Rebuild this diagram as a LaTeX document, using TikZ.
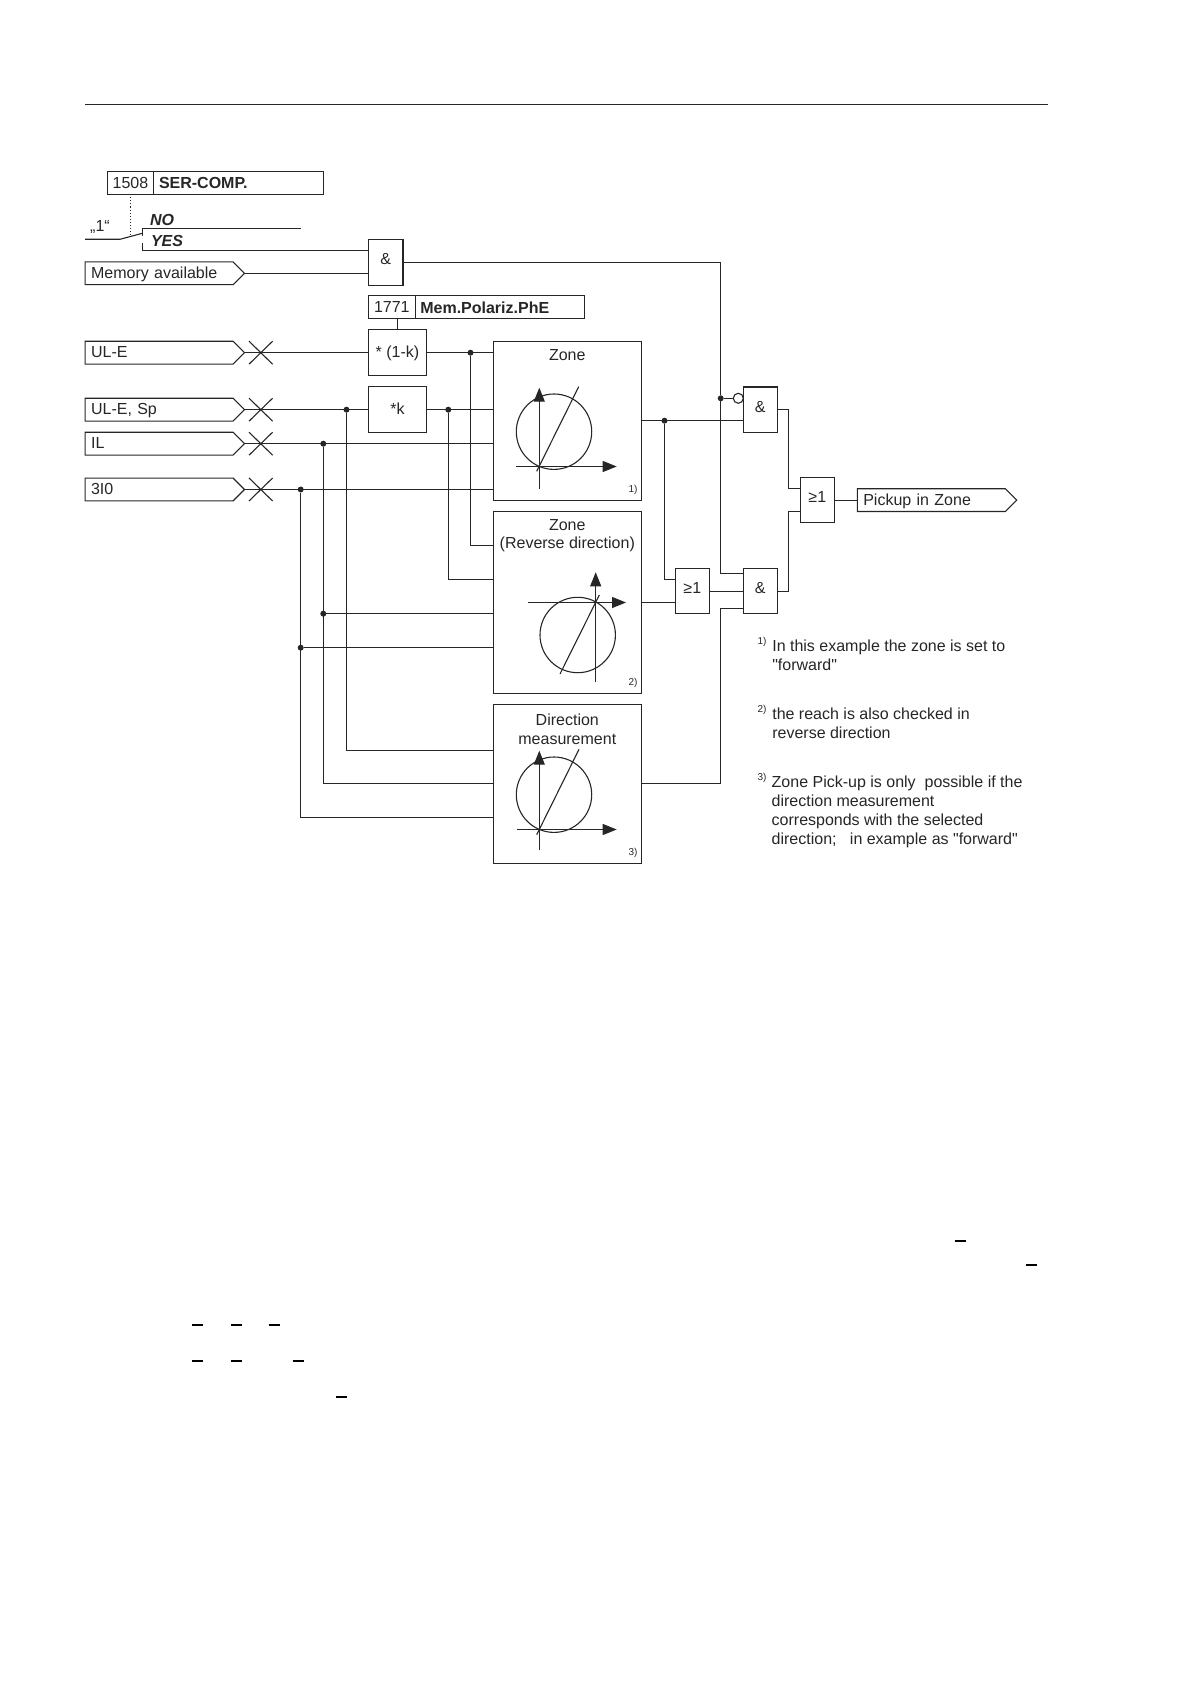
\documentclass[tikz,border=0pt]{standalone}
\usepackage{fontspec}
\setmainfont{Liberation Sans}[Ligatures=TeXOff]
\usetikzlibrary{positioning,arrows.meta,shapes.symbols,shapes.misc}
\tikzset{
  every node/.style={font=\fontsize{8}{9.5}\selectfont,inner sep=0pt,outer sep=0pt},
  box/.style={draw,rectangle},
  gate/.style={box,minimum width=17.2pt,minimum height=22.7pt,text height=5.8pt,text depth=3.4pt},
  multbox/.style={box,minimum width=28.7pt,minimum height=22.8pt,text height=5.8pt,text depth=1pt},
  numbox/.style={box,minimum width=23.3pt,minimum height=11.5pt},
  namebox/.style={box,minimum width=84.8pt,minimum height=11.5pt,text width=79.6pt,align=left,inner xsep=2.6pt,font=\fontsize{8}{9.5}\selectfont\bfseries},
  tag/.style={draw,signal,signal to=east,signal pointer angle=90,minimum height=11.4pt,text width=68pt,align=left,inner xsep=3pt,text height=5.8pt,text depth=0.8pt},
  crossing/.style={draw,cross out,minimum width=11.8pt,minimum height=11.5pt},
  junction/.style={circle,fill,minimum size=3pt},
  negation/.style={draw,circle,fill=white,minimum size=5pt},
  setting/.style={font=\fontsize{8}{9.5}\selectfont\bfseries\itshape,anchor=west},
  note/.style={anchor=north west,align=left},
  notemark/.style={font=\fontsize{5}{6}\selectfont},
  axis/.style={-{Triangle[length=7pt,width=5.5pt]}}
}
\begin{document}
\begin{tikzpicture}[x=0.5pt,y=-0.5pt,line width=0.55pt,color=black!85]
  \useasboundingbox (0,0) rectangle (1190,1684);
  \draw (85,104.5) -- (1048,104.5);

  % settings
  \node[numbox] (p1508) at (130.5,182.6) {1508};
  \node[namebox,right=0pt of p1508] (n1508) {SER-COMP.};
  \node[numbox] (p1771) at (391.8,307.3) {1771};
  \node[namebox,right=0pt of p1771] (n1771) {Mem.Polariz.PhE};
  \node (one) at (100,227) {„1“};
  \node[setting] (no) at (150,220) {NO};
  \node[setting] (yes) at (151,240.7) {YES};

  % inputs
  \node[tag] (mem) at (159.1,273.3) {Memory available};
  \node[tag] (ule) at (159.1,352.7) {UL-E};
  \node[tag] (ulesp) at (159.1,409.7) {UL-E, Sp};
  \node[tag] (il) at (159.1,443.7) {IL};
  \node[tag] (ize) at (159.1,489.5) {3I0};
  \node[crossing] (xa) at (260.8,352.7) {};
  \node[crossing] (xb) at (260.8,409.7) {};
  \node[crossing] (xc) at (260.8,443.7) {};
  \node[crossing] (xd) at (260.8,489.5) {};

  % blocks
  \node[gate] (andm) at (385.8,262.5) {\&};
  \node[multbox] (mula) at (397.5,352.7) {* (1-k)};
  \node[multbox] (mulb) at (397.5,409.7) {*k};
  \node[box,minimum width=74pt,minimum height=79.35pt] (zone) at (567.3,420.7) {};
  \node[box,minimum width=74pt,minimum height=90.8pt] (rev) at (567.3,602.5) {};
  \node[box,minimum width=74pt,minimum height=79.5pt] (dir) at (567.3,783.8) {};
  \node (zonet) at (567.3,355) {Zone};
  \node[align=center,font=\fontsize{8}{9.2}\selectfont] (revt) at (567.3,535.5) {Zone\\(Reverse direction)};
  \node[align=center] (dirt) at (567.3,728.8) {Direction\\measurement};
  \node[notemark] (zonem) at (633,490) {1)};
  \node[notemark] (revm) at (633,682.7) {2)};
  \node[notemark] (dirm) at (633,852.7) {3)};
  \node[gate] (anda) at (760.3,409.7) {\&};
  \node[gate] (orb) at (692.3,591.2) {≥1};
  \node[gate] (andb) at (760.3,591.2) {\&};
  \node[gate] (ora) at (817.3,500.1) {≥1};
  \node[tag] (pick) at (931.3,500.1) {Pickup in Zone};
  \node[negation,anchor=east] (neg) at (743.3,398.3) {};

  % junctions
  \node[junction] (ja) at (470.5,352.7) {};
  \node[junction] (jb) at (448.3,409.7) {};
  \node[junction] (jc) at (346.5,409.7) {};
  \node[junction] (jd) at (323.3,443.7) {};
  \node[junction] (je) at (300.7,489.5) {};
  \node[junction] (jf) at (323.3,613.7) {};
  \node[junction] (jg) at (300.7,647.7) {};
  \node[junction] (jh) at (664.5,420.7) {};
  \node[junction] (ji) at (720.7,398.3) {};

  \coordinate (reva) at (493.3,545.7);
  \coordinate (revb) at (493.3,579.7);
  \coordinate (revc) at (493.3,613.7);
  \coordinate (revd) at (493.3,647.7);
  \coordinate (dira) at (493.3,750.5);
  \coordinate (dirb) at (493.3,783.7);
  \coordinate (dirc) at (493.3,817.7);
  \coordinate (zoneo) at (641.3,420.7);
  \coordinate (andaa) at (743.3,420.7);
  \coordinate (andba) at (743.3,573.7);
  \coordinate (andbb) at (743.3,608.3);
  \coordinate (orba) at (675.3,579.7);
  \coordinate (oraa) at (800.3,488.7);
  \coordinate (orab) at (800.3,511.3);
  \coordinate (yesa) at (368.3,250.7);

  % switch
  \draw (85,239.3) -- (120,239.3) -- (142.3,233.3);
  \draw (142.3,236) -- (142.3,228.3) -- (300.7,228.3);
  \draw (142.3,243.3) -- (142.3,250.7) -- (yesa);
  \draw[densely dotted] (p1508.south) -- (130.5,235.5);
  \draw (mem.east) -- (mem.east -| andm.west);
  \draw (mula.north) -- (mula.north |- p1771.south);

  % measured values
  \draw (ule.east) -- (mula.west);
  \draw (mula.east) -- (mula.east -| zone.west);
  \draw (ulesp.east) -- (mulb.west);
  \draw (mulb.east) -- (mulb.east -| zone.west);
  \draw (il.east) -- (il.east -| zone.west);
  \draw (ize.east) -- (ize.east -| zone.west);
  \draw (ja) |- (reva);
  \draw (jb) |- (revb);
  \draw (jc) |- (dira);
  \draw (jd) |- (dirb);
  \draw (je) |- (dirc);
  \draw (jf) -- (revc);
  \draw (jg) -- (revd);

  % logic
  \draw (andm.east) -| (ji);
  \draw (ji) -- (neg);
  \draw (ji) |- (andba);
  \draw (dir.east) -| (ji |- andbb) -- (andbb);
  \draw (zoneo) -- (andaa);
  \draw (jh) |- (orba);
  \draw (rev.east) -- (rev.east -| orb.west);
  \draw (orb.east) -- (andb.west);
  \draw (anda.east) -- ++(11.4,0) |- (oraa);
  \draw (andb.east) -- ++(11.4,0) |- (orab);
  \draw (ora.east) -- (pick.west);

  % characteristics
  \draw (554,431.7) circle [radius=37.7];
  \draw[axis] (539.3,489) -- (539.3,387.7);
  \draw[axis] (516,466.5) -- (616.7,466.5);
  \draw (536.7,471.3) -- (578.7,386.7);
  \draw (577.7,635) circle [radius=37.7];
  \draw[axis] (595.7,681.7) -- (595.7,572.3);
  \draw[axis] (527.7,602.5) -- (626,602.5);
  \draw (560,674) -- (599.3,595);
  \draw (554,794.7) circle [radius=37.7];
  \draw[axis] (539.3,850) -- (539.3,750.7);
  \draw[axis] (517,829.5) -- (616.7,829.5);
  \draw (536.7,834.7) -- (579,749.3);

  % notes
  \node[notemark] (ma) at (762,642) {1)};
  \node[note] (na) at (772.3,639.5) {In this example the zone is set to\\"forward"};
  \node[notemark] (mb) at (762,710) {2)};
  \node[note] (nb) at (772.3,707.5) {the reach is also checked in\\reverse direction};
  \node[notemark] (mc) at (762,778) {3)};
  \node[note] (nc) at (771.7,775.5) {Zone Pick-up is only\ \ possible if the\\direction measurement\\corresponds with the selected\\direction;\ \ \ in example as "forward"};

  % stray dashes
  \foreach \x/\y in {960/1241,1031/1265,197/1325,236/1325,274/1325,197/1361,236/1361,298/1361,341/1397}
    \draw[black,line width=0.7pt] (\x-5.5,\y) -- (\x+5.5,\y);
\end{tikzpicture}
\end{document}
